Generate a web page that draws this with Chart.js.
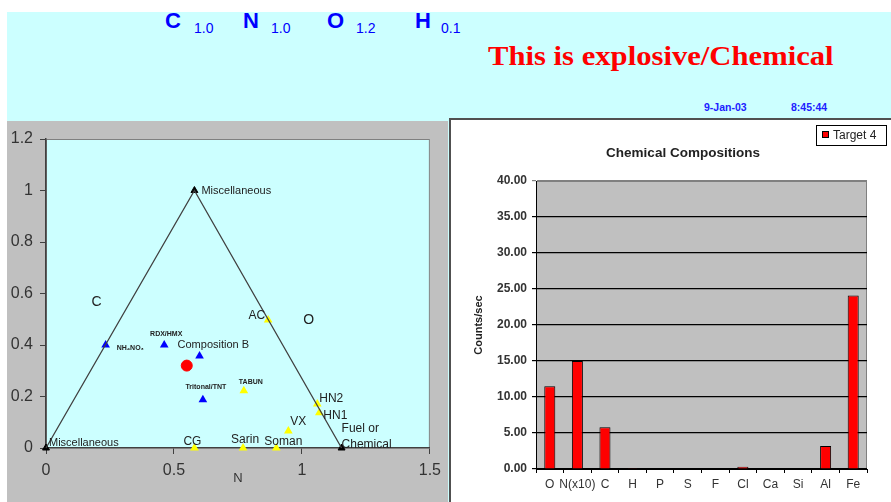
<!DOCTYPE html>
<html>
<head>
<meta charset="utf-8">
<script src="https://cdn.jsdelivr.net/npm/chart.js@4.4.0/dist/chart.umd.min.js"></script>
<style>
    body { margin: 0; width: 891px; height: 502px; overflow: hidden; background: #fff; position: relative; font-family: "Liberation Sans", Arial, sans-serif; }
    #sky { position: absolute; left: 7px; top: 12px; width: 884px; height: 490px; background: #ccffff; }
    .t { position: absolute; white-space: nowrap; line-height: 1; }
    .el { color: #0000ff; font-weight: bold; font-size: 22px; }
    .sub { color: #0000ff; font-size: 14px; }
    #verdict { font-family: "Liberation Serif", "Times New Roman", serif; font-weight: bold; font-size: 27px; color: #ff0000; transform: scaleX(1.135); transform-origin: left top; }
    .stamp { color: #2020ff; font-weight: bold; font-size: 10.5px; }
    #leftBox { position: absolute; left: 7px; top: 121px; width: 441px; height: 381px; background: #c0c0c0; }
    #rightBox { position: absolute; left: 449px; top: 118px; width: 442px; height: 384px; background: #fff; border-left: 2px solid #505050; border-top: 2px solid #505050; box-sizing: border-box; }
    canvas { position: absolute; }
</style>
</head>
<body>
<div id="sky"></div>

<div class="t el" style="left:165px; top:10.4px">C</div>
<div class="t sub" style="left:194px; top:21.2px">1.0</div>
<div class="t el" style="left:243px; top:10.4px">N</div>
<div class="t sub" style="left:271px; top:21.2px">1.0</div>
<div class="t el" style="left:327px; top:10.4px">O</div>
<div class="t sub" style="left:356px; top:21.2px">1.2</div>
<div class="t el" style="left:415px; top:10.4px">H</div>
<div class="t sub" style="left:441px; top:21.2px">0.1</div>

<div id="verdict" class="t" style="left:488px; top:43.4px">This is explosive/Chemical</div>
<div class="t stamp" style="left:704px; top:102.2px">9-Jan-03</div>
<div class="t stamp" style="left:791px; top:102.2px">8:45:44</div>

<div id="leftBox"><canvas id="ternary" width="441" height="381" style="left:0;top:0"></canvas></div>
<div id="rightBox"><canvas id="composition" width="440" height="382" style="left:0;top:0"></canvas></div>

<script>
// ---- ternary style chart data ----
const vertexNames = ['Miscellaneous', 'Miscellaneous', 'Fuel or|Chemical']
const vertexX = [0.58, 0, 1.155]
const vertexY = [1, 0, 0]

const explosiveNames = ['NH\u2084NO\u2083', 'RDX/HMX', 'Composition B', 'Tritonal/TNT']
const explosiveX = [0.233, 0.462, 0.60, 0.613]
const explosiveY = [0.40, 0.40, 0.357, 0.187]

const chemicalNames = ['AC', 'TABUN', 'HN2', 'HN1', 'VX', 'CG', 'Sarin', 'Soman']
const chemicalX = [0.868, 0.773, 1.06, 1.068, 0.947, 0.58, 0.77, 0.90]
const chemicalY = [0.497, 0.222, 0.171, 0.137, 0.066, 0, 0, 0]

const targetX = [0.55]
const targetY = [0.32]

const regionNames = ['C', 'O']
const regionX = [0.198, 1.026]
const regionY = [0.567, 0.497]

// ---- bar chart data ----
const elements = ['O', 'N(x10)', 'C', 'H', 'P', 'S', 'F', 'Cl', 'Ca', 'Si', 'Al', 'Fe']
const counts = [11.5, 15.0, 5.8, 0.1, 0, 0, 0, 0.3, 0, 0, 3.2, 24.1]
const seriesName = 'Target 4'

// label placement: [dx, dy, align, font]
const small = 'bold 7px "Liberation Sans", "DejaVu Sans", sans-serif'
const norm = '11px "Liberation Sans", Arial, sans-serif'
const mid = '12px "Liberation Sans", Arial, sans-serif'
const vertexPlace = [[7, 0, 'left', norm], [3, -5, 'left', norm], [0, -19, 'left', mid]]
const explosivePlace = [[11, 3, 'left', small], [2, -11, 'center', small], [-22, -11, 'left', norm], [3, -13, 'center', small]]
const chemicalPlace = [[-3, -4, 'right', mid], [7, -9, 'center', small], [2, -5, 'left', mid], [4, 3, 'left', mid],
    [2, -9, 'left', mid], [-2, -6, 'center', mid], [2, -8, 'center', mid], [7, -6, 'center', mid]]
const regionPlace = [[0, 0, 'center', '14px "Liberation Sans", Arial, sans-serif'], [0, 0, 'center', '14px "Liberation Sans", Arial, sans-serif']]

Chart.defaults.font.family = '"Liberation Sans", Arial, sans-serif'
Chart.defaults.animation = false

function toPoints(xs, ys) {
    return xs.map((x, i) => ({x: x, y: ys[i]}))
}

const plotBackground = {
    id: 'plotBackground',
    beforeDraw(chart, args, opts) {
        const {ctx, chartArea: a} = chart
        ctx.save()
        ctx.fillStyle = opts.color
        ctx.fillRect(a.left, a.top, a.right - a.left, a.bottom - a.top)
        ctx.strokeStyle = '#808080'
        ctx.lineWidth = 1
        ctx.strokeRect(a.left + 0.5, a.top + 0.5, a.right - a.left - 1, a.bottom - a.top - 1)
        ctx.restore()
    }
}

const pointLabels = {
    id: 'pointLabels',
    afterDatasetsDraw(chart) {
        const ctx = chart.ctx
        chart.data.datasets.forEach((ds, i) => {
            if (!ds.names) return
            chart.getDatasetMeta(i).data.forEach((pt, j) => {
                const [dx, dy, align, font] = ds.namePlace[j]
                ctx.save()
                ctx.font = font
                ctx.fillStyle = '#222'
                ctx.textAlign = align
                ctx.textBaseline = 'middle'
                ds.names[j].split('|').forEach((line, k) => ctx.fillText(line, pt.x + dx, pt.y + dy + k * 16))
                ctx.restore()
            })
        })
    }
}

const plainNumber = v => String(+v.toFixed(2))

const ternary = new Chart(document.getElementById('ternary').getContext('2d'), {
    type: 'scatter',
    data: {
        datasets: [{
            data: toPoints([vertexX[1], vertexX[0], vertexX[2]], [vertexY[1], vertexY[0], vertexY[2]]),
            showLine: true,
            borderColor: '#404040',
            borderWidth: 1.3,
            pointRadius: 0,
            clip: false
        }, {
            data: toPoints(vertexX, vertexY),
            names: vertexNames,
            namePlace: vertexPlace,
            pointStyle: 'triangle',
            pointRadius: 4,
            backgroundColor: '#000',
            borderColor: '#000',
            clip: false
        }, {
            data: toPoints(explosiveX, explosiveY),
            names: explosiveNames,
            namePlace: explosivePlace,
            pointStyle: 'triangle',
            pointRadius: 5,
            backgroundColor: '#0000ff',
            borderColor: '#0000ff',
            borderWidth: 0
        }, {
            data: toPoints(chemicalX, chemicalY),
            names: chemicalNames,
            namePlace: chemicalPlace,
            pointStyle: 'triangle',
            pointRadius: 5,
            backgroundColor: '#ffff00',
            borderColor: '#ffff00',
            borderWidth: 0,
            clip: false
        }, {
            data: toPoints(targetX, targetY),
            pointStyle: 'circle',
            pointRadius: 5.5,
            backgroundColor: '#ff0000',
            borderColor: '#ff0000'
        }, {
            data: toPoints(regionX, regionY),
            names: regionNames,
            namePlace: regionPlace,
            pointRadius: 0
        }]
    },
    options: {
        responsive: false,
        layout: {padding: {left: 0, top: 18, right: 16, bottom: 0}},
        plugins: {legend: {display: false}, tooltip: {enabled: false}, plotBackground: {color: '#ccffff'}},
        scales: {
            x: {
                type: 'linear', min: 0, max: 1.5,
                ticks: {stepSize: 0.5, color: '#333', font: {size: 16}, padding: 7, callback: plainNumber},
                grid: {drawOnChartArea: false, tickLength: 6, color: '#404040'},
                border: {color: '#404040', width: 1.5},
                title: {display: true, text: 'N', color: '#333', font: {size: 13}, padding: {top: 0, bottom: 16}},
                afterFit: s => { s.height = 54 }
            },
            y: {
                min: 0, max: 1.2,
                ticks: {stepSize: 0.2, color: '#333', font: {size: 16}, padding: 7, callback: plainNumber},
                grid: {drawOnChartArea: false, tickLength: 6, color: '#404040'},
                border: {color: '#404040', width: 1.5},
                afterFit: s => { s.width = 39 }
            }
        }
    },
    plugins: [plotBackground, pointLabels]
})

const titleAndLegend = {
    id: 'titleAndLegend',
    afterDraw(chart) {
        const ctx = chart.ctx
        const ds = chart.data.datasets[0]
        ctx.save()
        ctx.fillStyle = '#222'
        ctx.font = 'bold 13.5px "Liberation Sans", Arial, sans-serif'
        ctx.textAlign = 'center'
        ctx.textBaseline = 'middle'
        ctx.fillText('Chemical Compositions', 232, 33)
        // legend box
        ctx.fillStyle = '#fff'
        ctx.strokeStyle = '#000'
        ctx.lineWidth = 1
        ctx.strokeRect(365.5, 5.5, 70, 20)
        ctx.fillStyle = ds.backgroundColor
        ctx.fillRect(371, 11, 7, 7)
        ctx.strokeRect(371.5, 11.5, 6, 6)
        ctx.fillStyle = '#222'
        ctx.font = '12px "Liberation Sans", Arial, sans-serif'
        ctx.textAlign = 'left'
        ctx.fillText(ds.label, 382, 15.5)
        ctx.restore()
    }
}

const composition = new Chart(document.getElementById('composition').getContext('2d'), {
    type: 'bar',
    data: {
        labels: elements,
        datasets: [{
            label: seriesName,
            data: counts,
            backgroundColor: '#ff0000',
            borderColor: '#000',
            borderWidth: 1,
            barPercentage: 0.4,
            categoryPercentage: 1
        }]
    },
    options: {
        responsive: false,
        layout: {padding: {left: 0, top: 61, right: 24, bottom: 0}},
        plugins: {legend: {display: false}, tooltip: {enabled: false}, plotBackground: {color: '#c0c0c0'}},
        scales: {
            x: {
                ticks: {color: '#333', font: {size: 12}, padding: 4, maxRotation: 0, autoSkip: false},
                grid: {offset: true, drawOnChartArea: false, tickLength: 4, color: '#000'},
                border: {color: '#000', width: 1},
                afterFit: s => { s.height = 33 }
            },
            y: {
                min: 0, max: 40,
                ticks: {stepSize: 5, color: '#333', font: {size: 12, weight: 'bold'}, padding: 5, callback: v => v.toFixed(2)},
                grid: {tickLength: 4, color: c => c.tick && c.tick.value === 40 ? '#808080' : '#000', lineWidth: 1.2},
                border: {color: '#000', width: 1},
                title: {display: true, text: 'Counts/sec', color: '#222', font: {size: 11, weight: 'bold'}, padding: {top: 21, bottom: 0}},
                afterFit: s => { s.width = 85 }
            }
        }
    },
    plugins: [plotBackground, titleAndLegend]
})
</script>
</body>
</html>
